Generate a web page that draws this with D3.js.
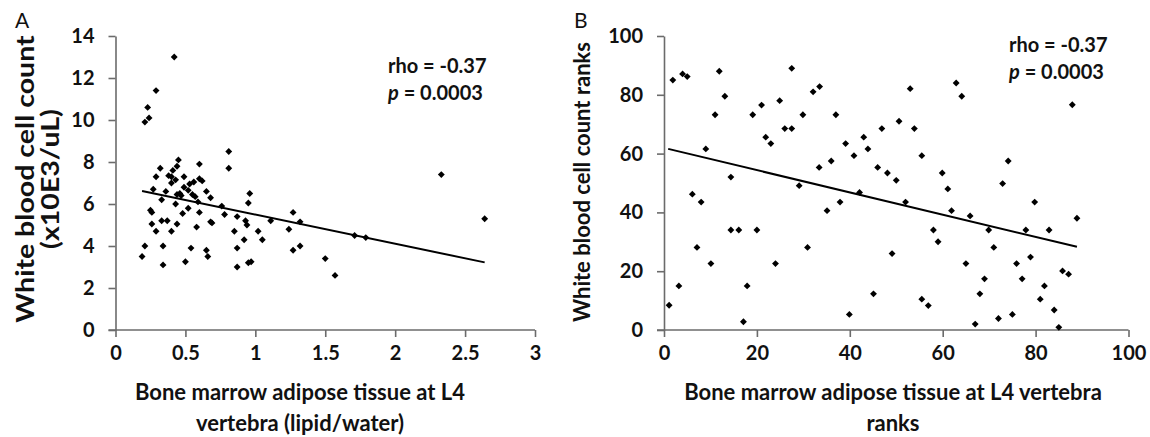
<!DOCTYPE html>
<html>
<head>
<meta charset="utf-8">
<script src="https://d3js.org/d3.v7.min.js"></script>
<style>
  body { margin: 0; background: #fff; }
  text { font-family: Lato, "Open Sans", sans-serif; }
</style>
</head>
<body>
<div id="chart"></div>
<script>
// panel A: marrow fat (lipid/water) vs WBC count
var fatA = [0.42, 0.29, 0.23, 0.24, 0.21, 0.81, 0.81, 0.45, 0.44, 0.60, 0.32, 0.29, 0.41, 0.38, 0.40, 0.43,
            0.40, 0.49, 0.27, 0.49, 0.53, 0.56, 0.60, 0.62, 0.52, 0.46, 0.55, 0.57, 0.65, 0.68, 0.59, 0.43,
            0.33, 0.76, 0.96, 0.95, 0.52, 0.25, 0.26, 0.48, 0.60, 0.78, 0.87, 0.33, 0.37, 0.68, 0.69, 0.93,
            0.94, 1.11, 1.27, 1.32, 0.26, 0.44, 0.29, 0.40, 0.58, 0.85, 1.02, 1.24, 0.92, 1.05, 0.21, 0.34,
            0.54, 0.87, 0.65, 1.32, 1.27, 0.19, 0.66, 0.50, 0.95, 0.97, 0.34, 0.87, 1.50, 1.57, 1.71, 1.79,
            2.33, 2.64, 0.44, 0.47, 0.36];
var wbcA = [13.0, 11.4, 10.6, 10.1, 9.9, 8.5, 7.7, 8.1, 7.8, 7.9, 7.7, 7.3, 7.6, 7.35, 7.3, 7.15,
            7.0, 7.3, 6.7, 6.8, 6.95, 7.05, 7.2, 7.1, 6.65, 6.5, 6.45, 6.35, 6.6, 6.3, 6.1, 6.0,
            6.2, 5.9, 6.5, 6.05, 5.8, 5.7, 5.6, 5.55, 5.6, 5.5, 5.4, 5.2, 5.2, 5.15, 5.1, 5.2,
            5.0, 5.2, 5.6, 5.15, 5.05, 5.05, 4.7, 4.7, 4.9, 4.7, 4.7, 4.8, 4.3, 4.3, 4.0, 4.0,
            3.9, 3.9, 3.8, 4.0, 3.8, 3.5, 3.5, 3.25, 3.2, 3.25, 3.1, 3.0, 3.4, 2.6, 4.5, 4.4,
            7.4, 5.3, 6.45, 6.4, 6.6];
var trendA = [[0.19, 6.62], [2.64, 3.22]];

// panel B: ranks
var fatB = [1.1, 1.9, 3.2, 4.0, 5.0, 6.1, 7.1, 8.0, 9.0, 10.1, 11.0, 11.9, 13.1, 14.4, 14.4, 16.1,
            17.1, 17.9, 19.1, 20.0, 21.0, 21.9, 23.0, 24.0, 24.9, 26.0, 27.5, 27.5, 29.1, 29.9, 30.9, 32.1,
            33.5, 33.4, 35.1, 36.0, 37.0, 37.9, 39.1, 39.9, 40.9, 42.1, 43.0, 43.9, 45.1, 46.0, 46.9, 48.1,
            49.1, 50.0, 50.6, 53.0, 53.9, 55.5, 52.0, 55.5, 56.9, 58.0, 59.0, 59.9, 61.1, 61.9, 62.9, 64.1,
            65.0, 65.9, 67.0, 68.0, 69.0, 69.9, 71.0, 72.0, 72.9, 74.1, 75.0, 75.9, 77.1, 77.9, 78.9, 79.8,
            81.0, 81.9, 82.9, 84.0, 85.0, 85.8, 87.1, 87.9, 88.9];
var wbcB = [8.4, 85.0, 15.0, 87.1, 86.2, 46.2, 28.1, 43.5, 61.6, 22.6, 73.2, 88.0, 79.5, 52.0, 34.0, 34.0,
            2.8, 15.0, 73.2, 34.0, 76.5, 65.6, 63.4, 22.6, 78.0, 68.5, 68.5, 89.0, 49.1, 73.2, 28.1, 81.0,
            82.8, 55.3, 40.6, 57.5, 73.2, 43.5, 63.4, 5.3, 59.3, 46.8, 65.6, 61.6, 12.3, 55.3, 68.5, 53.4,
            26.0, 50.9, 71.0, 82.1, 68.5, 59.3, 43.5, 10.5, 8.3, 34.0, 30.0, 53.4, 48.0, 40.6, 84.0, 79.5,
            22.6, 38.8, 2.0, 12.3, 17.4, 34.0, 28.1, 3.9, 49.8, 57.5, 5.3, 22.6, 17.4, 34.0, 24.8, 43.5,
            10.5, 15.0, 34.0, 6.8, 0.9, 20.1, 19.0, 76.6, 38.0];
var trendB = [[0.9, 61.6], [88.9, 28.3]];

var xTicksA = [0, 0.5, 1, 1.5, 2, 2.5, 3];
var yTicksA = [0, 2, 4, 6, 8, 10, 12, 14];
var xTicksB = [0, 20, 40, 60, 80, 100];
var yTicksB = [0, 20, 40, 60, 80, 100];

var svgWidth = 1150, svgHeight = 437;
var plotTop = 36, plotBottom = 330;

var svg = d3.select("#chart").append("svg")
    .attr("width", svgWidth)
    .attr("height", svgHeight);

function panel(opts) {
    var xScale = d3.scaleLinear().domain(opts.xDomain).range(opts.xRange);
    var yScale = d3.scaleLinear().domain(opts.yDomain).range([plotBottom, plotTop]);

    var g = svg.append("g");

    // axes
    g.append("g")
        .attr("transform", `translate(${opts.xRange[0]},0)`)
        .call(d3.axisLeft(yScale).tickValues(opts.yTicks).tickFormat(d => d)
            .tickSize(7).tickSizeOuter(0).tickPadding(14));
    var xAxis = g.append("g")
        .attr("transform", `translate(0,${plotBottom})`)
        .call(d3.axisBottom(xScale).tickValues(opts.xTicks).tickFormat(d => d)
            .tickSize(7).tickSizeOuter(0).tickPadding(9));

    // x axis line pokes out a bit left of the y axis
    xAxis.select(".domain").attr("d", `M${opts.xRange[0] - 7},0H${opts.xRange[1]}`);

    g.selectAll(".domain, .tick line").attr("stroke", "#6b6b6b").attr("stroke-width", 1.6);
    g.selectAll(".tick text")
        .attr("font-family", "Lato, sans-serif")
        .attr("font-size", 20)
        .attr("font-weight", "bold")
        .attr("fill", "#111");

    // points
    g.selectAll("path.pt")
        .data(opts.xs.map((d, i) => [d, opts.ys[i]]))
        .enter()
        .append("path")
        .attr("class", "pt")
        .attr("d", d3.symbol().type(d3.symbolDiamond2).size(30))
        .attr("transform", d => `translate(${xScale(d[0])},${yScale(d[1])})`)
        .attr("fill", "#000");

    // trend line
    g.append("path")
        .datum(opts.trend)
        .attr("d", d3.line().x(d => xScale(d[0])).y(d => yScale(d[1])))
        .attr("fill", "none")
        .attr("stroke", "#000")
        .attr("stroke-width", 2);

    // stats text
    g.append("text")
        .attr("x", opts.statX)
        .attr("y", opts.statY)
        .attr("font-size", 20)
        .attr("font-weight", "bold")
        .attr("fill", "#111")
        .text("rho = -0.37");
    var p = g.append("text")
        .attr("x", opts.statX)
        .attr("y", opts.statY + 27)
        .attr("font-size", 20)
        .attr("font-weight", "bold")
        .attr("fill", "#111");
    p.append("tspan").attr("font-style", "italic").text("p");
    p.append("tspan").text(" = 0.0003");

    // panel letter
    g.append("text")
        .attr("x", opts.letterX)
        .attr("y", 28)
        .attr("font-size", 21)
        .attr("fill", "#111")
        .text(opts.letter);

    // x label
    opts.xLabel.forEach(function(t, i) {
        g.append("text")
            .attr("x", opts.xLabelX)
            .attr("y", 400 + i * 31)
            .attr("text-anchor", "middle")
            .attr("font-size", 22)
            .attr("font-weight", "bold")
            .attr("fill", "#111")
            .text(t);
    });

    // y label (stretched lengthwise like the original)
    opts.yLabel.forEach(function(t, i) {
        g.append("text")
            .attr("transform", `translate(${opts.yLabelX + i * opts.yLabelGap},${opts.yLabelY}) rotate(-90) scale(${opts.yLabelStretch},1)`)
            .attr("text-anchor", "middle")
            .attr("font-size", opts.yLabelSize)
            .attr("font-weight", "bold")
            .attr("fill", "#111")
            .text(t);
    });
}

panel({
    xDomain: [0, 3], xRange: [115.5, 535], yDomain: [0, 14],
    xTicks: xTicksA, yTicks: yTicksA,
    xs: fatA, ys: wbcA, trend: trendA,
    statX: 388, statY: 73,
    letter: "A", letterX: 15,
    xLabel: ["Bone marrow adipose tissue at L4", "vertebra (lipid/water)"], xLabelX: 300,
    yLabel: ["White blood cell count", "(x10E3/uL)"], yLabelX: 34, yLabelGap: 25, yLabelY: 179,
    yLabelSize: 24, yLabelStretch: 1.19
});

panel({
    xDomain: [0, 100], xRange: [664, 1128.5], yDomain: [0, 100],
    xTicks: xTicksB, yTicks: yTicksB,
    xs: fatB, ys: wbcB, trend: trendB,
    statX: 1009, statY: 52,
    letter: "B", letterX: 574,
    xLabel: ["Bone marrow adipose tissue at L4 vertebra", "ranks"], xLabelX: 893,
    yLabel: ["White blood cell count ranks"], yLabelX: 590, yLabelGap: 0, yLabelY: 182,
    yLabelSize: 22, yLabelStretch: 1
});
</script>
</body>
</html>
